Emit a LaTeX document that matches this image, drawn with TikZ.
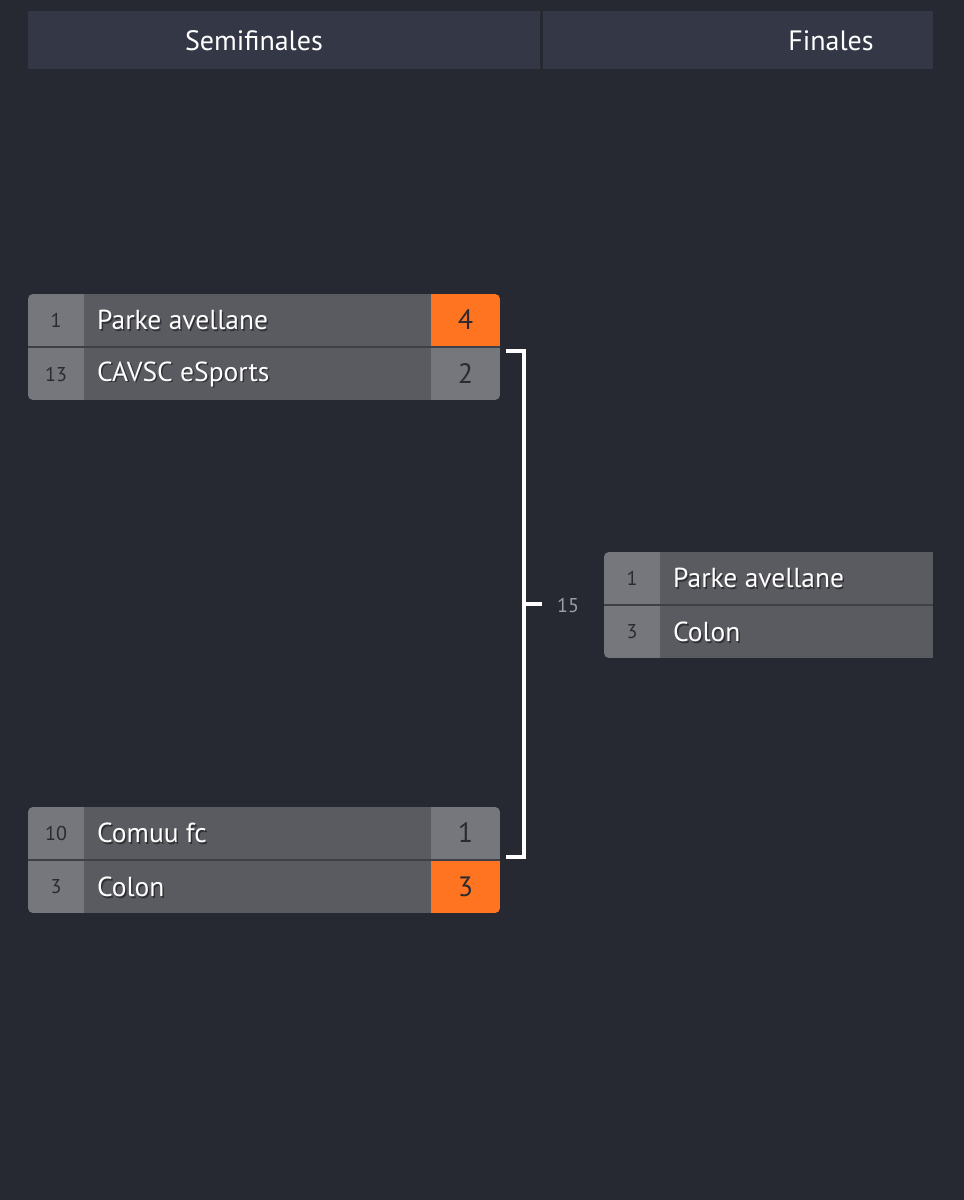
\documentclass[tikz,border=0pt]{standalone}
\usepackage{fontspec}
\setmainfont{PT Sans}
\usetikzlibrary{calc}
\definecolor{bgc}{HTML}{262832}
\definecolor{hdrc}{HTML}{343746}
\definecolor{seedc}{HTML}{76777D}
\definecolor{namec}{HTML}{5A5B61}
\definecolor{divc}{HTML}{3E3F47}
\definecolor{orangec}{HTML}{FF7421}
\definecolor{darktxt}{HTML}{2A2B31}
\definecolor{labelc}{HTML}{9C9DA5}
\tikzset{
  cell/.style={inner sep=0pt, outer sep=0pt, anchor=north west, minimum height=52pt},
  seedcell/.style={cell, fill=seedc, minimum width=56pt, text=darktxt, font=\fontsize{20}{22}\selectfont},
  namecell/.style={cell, fill=namec},
  scorecell/.style={cell, fill=seedc, minimum width=69pt, text=darktxt, font=\fontsize{28}{30}\selectfont},
  wincell/.style={scorecell, fill=orangec},
  nametxt/.style={inner sep=0pt, anchor=west, text=white, font=\fontsize{27.5}{30}\selectfont},
  shadowtxt/.style={inner sep=0pt, anchor=west, text=black, opacity=0.45, font=\fontsize{27.5}{30}\selectfont},
  hdrbox/.style={inner sep=0pt, outer sep=0pt, anchor=north west, fill=hdrc, minimum height=58pt},
  hdrtxt/.style={inner sep=0pt, text=white, font=\fontsize{28}{32}\selectfont},
  bracket/.style={draw=white, line width=4pt},
}
\newcommand\teamname[3]{%
  \node[shadowtxt] at ($(#1.west)+(14.5,1.8)$) {#3};
  \node[nametxt] (#2) at ($(#1.west)+(13,0)$) {#3};}
\begin{document}
\begin{tikzpicture}[x=1pt,y=-1pt]
\useasboundingbox (0,0) rectangle (964,1200);
\fill[bgc] (0,0) rectangle (964,1200);

% header
\node[hdrbox, minimum width=512pt] (hsemi) at (28,11) {};
\node[hdrbox, minimum width=390pt] (hfin) at (543,11) {};
\node[hdrtxt] (tsemi) at (254,41) {Semifinales};
\node[hdrtxt] (tfin) at (831,41) {Finales};

% match 1
\begin{scope}
\clip[rounded corners=5pt] (28,294) rectangle (500,400);
\fill[divc] (28,294) rectangle (500,400);
\node[seedcell] (m1aseed) at (28,294) {1};
\node[namecell, minimum width=347pt] (m1aname) at (84,294) {};
\node[wincell] (m1ascore) at (431,294) {4};
\node[seedcell] (m1bseed) at (28,348) {13};
\node[namecell, minimum width=347pt] (m1bname) at (84,348) {};
\node[scorecell] (m1bscore) at (431,348) {2};
\end{scope}
\teamname{m1aname}{m1at}{Parke avellane}
\teamname{m1bname}{m1bt}{CAVSC eSports}

% match 2
\begin{scope}
\clip[rounded corners=5pt] (28,807) rectangle (500,913);
\fill[divc] (28,807) rectangle (500,913);
\node[seedcell] (m2aseed) at (28,807) {10};
\node[namecell, minimum width=347pt] (m2aname) at (84,807) {};
\node[scorecell] (m2ascore) at (431,807) {1};
\node[seedcell] (m2bseed) at (28,861) {3};
\node[namecell, minimum width=347pt] (m2bname) at (84,861) {};
\node[wincell] (m2bscore) at (431,861) {3};
\end{scope}
\teamname{m2aname}{m2at}{Comuu fc}
\teamname{m2bname}{m2bt}{Colon}

% final
\begin{scope}
\clip (604,552) rectangle (933,658);
\clip[rounded corners=5pt] (604,552) rectangle (960,658);
\fill[divc] (604,552) rectangle (933,658);
\node[seedcell] (faseed) at (604,552) {1};
\node[namecell, minimum width=273pt] (faname) at (660,552) {};
\node[seedcell] (fbseed) at (604,606) {3};
\node[namecell, minimum width=273pt] (fbname) at (660,606) {};
\end{scope}
\teamname{faname}{fat}{Parke avellane}
\teamname{fbname}{fbt}{Colon}

% bracket connector
\coordinate (b1) at ($(m1bscore.north east)+(6,3)$);
\coordinate (b2) at ($(m2ascore.south east)+(6,-2)$);
\coordinate (bv1) at ($(b1)+(18,0)$);
\coordinate (bv2) at ($(b2)+(18,0)$);
\coordinate (bmid) at ($(bv1)!0.5!(bv2)$);
\coordinate (btick) at ($(bmid)+(18,0)$);
\draw[bracket] (b1) -- (bv1) -- (bv2) -- (b2);
\draw[bracket] (bmid) -- (btick);
\node[inner sep=0pt, text=labelc, font=\fontsize{20}{22}\selectfont] (lbl) at ($(btick)+(26,1)$) {15};
\end{tikzpicture}
\end{document}
